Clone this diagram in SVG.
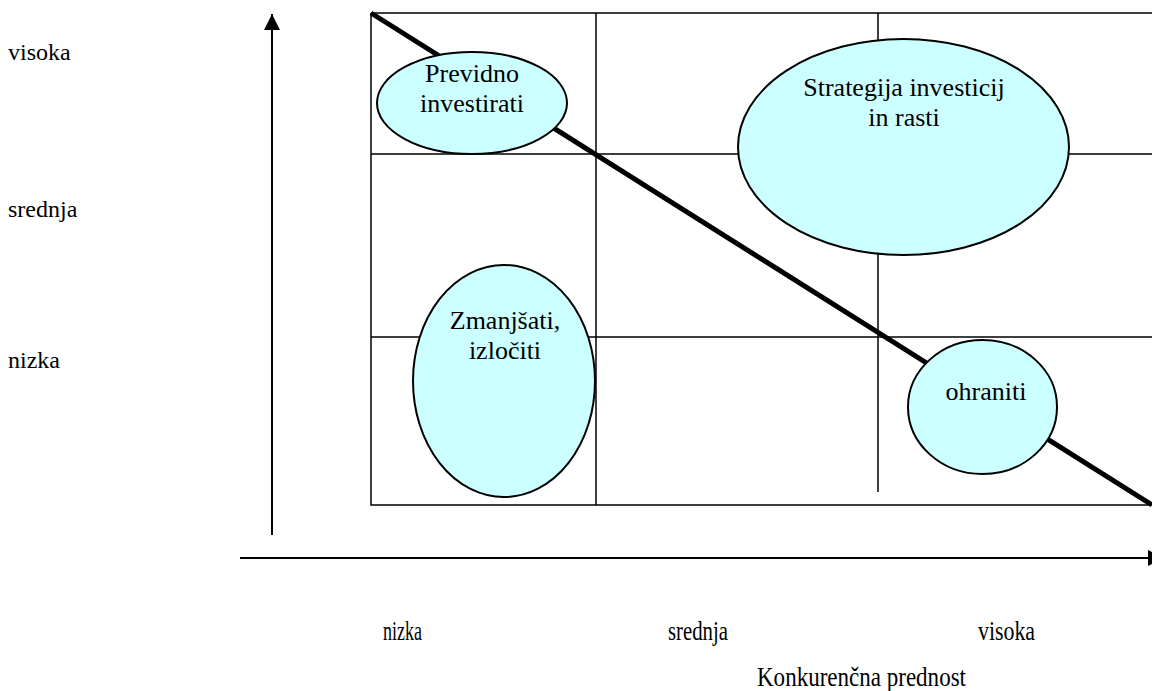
<svg xmlns="http://www.w3.org/2000/svg" width="1152" height="691" viewBox="0 0 1152 691">
<style>
.t{font-family:'Liberation Serif','Times New Roman','DejaVu Serif',serif;font-size:26px;fill:#000}
.lbl{font-family:'Liberation Serif','Times New Roman','DejaVu Serif',serif;font-size:24px;fill:#000}
.bl{font-family:'Liberation Serif','Times New Roman','DejaVu Serif',serif;font-size:27px;fill:#000}
.grid{stroke:#000;stroke-width:1.5;fill:none}
.ell{fill:#CCFFFF;stroke:#000;stroke-width:2}
</style>
<defs>
<marker id="ah2" viewBox="0 0 10 10" refX="10" refY="5" markerWidth="16" markerHeight="16" markerUnits="userSpaceOnUse" orient="auto">
<path d="M0,0 L10,5 L0,10 z" fill="#000"/>
</marker>
</defs>
<rect width="1152" height="691" fill="#fff"/>
<g id="connectors">
<line x1="272" y1="535" x2="272" y2="14" stroke="#000" stroke-width="2" marker-end="url(#ah2)"/>
<line x1="240" y1="558" x2="1164" y2="558" stroke="#000" stroke-width="2" marker-end="url(#ah2)"/>
</g>
<g id="grid">
<path class="grid" d="M371,13 H1152 M371,13 V505 H1152" stroke-width="2"/>
<path class="grid" d="M371,154 H1152 M371,337 H1152 M596,13 V505 M878,13 V492"/>
<line x1="371" y1="13" x2="1152" y2="505" stroke="#000" stroke-width="5"/>
</g>
<g id="node-previdno">
<ellipse class="ell" cx="472" cy="103" rx="95" ry="51"/>
<text class="t" text-anchor="middle" x="472" y="82">Previdno</text>
<text class="t" text-anchor="middle" x="472" y="112">investirati</text>
</g>
<g id="node-strategija">
<ellipse class="ell" cx="903.5" cy="147" rx="165.5" ry="108"/>
<text class="t" text-anchor="middle" x="904" y="96">Strategija investicij</text>
<text class="t" text-anchor="middle" x="904" y="126">in rasti</text>
</g>
<g id="node-zmanjsati">
<ellipse class="ell" cx="504" cy="381" rx="91" ry="116"/>
<text class="t" text-anchor="middle" x="505" y="329">Zmanjšati,</text>
<text class="t" text-anchor="middle" x="505" y="359">izločiti</text>
</g>
<g id="node-ohraniti">
<ellipse class="ell" cx="982.5" cy="407" rx="74.5" ry="67"/>
<text class="t" text-anchor="middle" x="986" y="400">ohraniti</text>
</g>
<g id="labels">
<text class="lbl" x="8" y="60">visoka</text>
<text class="lbl" x="8" y="217">srednja</text>
<text class="lbl" x="8" y="368">nizka</text>
<text class="bl" x="383" y="640" textLength="39" lengthAdjust="spacingAndGlyphs">nizka</text>
<text class="bl" x="668" y="640" textLength="60" lengthAdjust="spacingAndGlyphs">srednja</text>
<text class="bl" x="978" y="640" textLength="57" lengthAdjust="spacingAndGlyphs">visoka</text>
<text class="bl" x="757" y="686" textLength="209" lengthAdjust="spacingAndGlyphs">Konkurenčna prednost</text>
</g>
</svg>
